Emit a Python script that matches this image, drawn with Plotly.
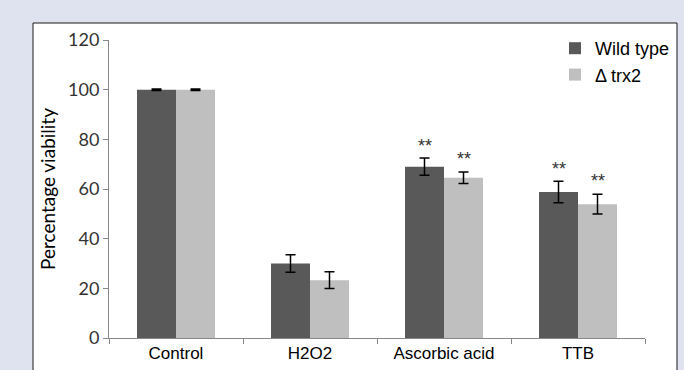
import plotly.graph_objects as go

categories = ["Control", "H2O2", "Ascorbic acid", "TTB"]
wild_type = [100, 30, 69, 58.8]
wild_err = [0.3, 3.5, 3.5, 4.3]
trx2 = [100, 23.3, 64.5, 53.9]
trx2_err = [0.3, 3.4, 2.3, 4.0]
sig_wild = ["", "", "**", "**"]
sig_trx2 = ["", "", "**", "**"]
y_ticks = [0, 20, 40, 60, 80, 100, 120]

fig = go.Figure()
fig.add_trace(go.Bar(
    x=categories, y=wild_type, name="Wild type",
    marker=dict(color="#595959", line=dict(width=0)),
    error_y=dict(type="data", array=wild_err, color="#000000", thickness=1.5, width=5),
))
fig.add_trace(go.Bar(
    x=categories, y=trx2, name="Δ trx2",
    marker=dict(color="#bfbfbf", line=dict(width=0)),
    error_y=dict(type="data", array=trx2_err, color="#000000", thickness=1.5, width=5),
))

for i, c in enumerate(categories):
    if sig_wild[i]:
        fig.add_annotation(x=c, y=wild_type[i] + wild_err[i], text=sig_wild[i],
                           xshift=-19.5, yshift=12, showarrow=False,
                           font=dict(family="Liberation Sans", size=18, color="#333333"))
    if sig_trx2[i]:
        fig.add_annotation(x=c, y=trx2[i] + trx2_err[i], text=sig_trx2[i],
                           xshift=19.5, yshift=13, showarrow=False,
                           font=dict(family="Liberation Sans", size=18, color="#333333"))

# white panel with black border
fig.add_shape(type="rect", xref="paper", yref="paper",
              x0=(33 - 109) / 536, x1=(677 - 109) / 536,
              y0=-0.2, y1=(338 - 23) / 298,
              fillcolor="white", line=dict(color="#1a1a1a", width=1), layer="below")

fig.update_layout(
    width=684, height=370,
    margin=dict(l=109, r=39, t=40, b=32, autoexpand=False),
    paper_bgcolor="#dfe3f0",
    plot_bgcolor="white",
    barmode="group", bargap=0.418, bargroupgap=0,
    showlegend=True,
    legend=dict(xref="container", yref="container",
                x=555 / 684, y=1 - 30 / 370, xanchor="left", yanchor="top",
                bgcolor="rgba(0,0,0,0)",
                font=dict(family="Liberation Sans", size=18, color="#000000"),
                itemwidth=30),
    font=dict(family="Liberation Sans", color="#000000"),
)
fig.update_xaxes(
    showline=True, linecolor="#888888", linewidth=1,
    ticks="outside", ticklen=5, tickcolor="#888888",
    tickson="boundaries",
    tickfont=dict(family="Liberation Sans", size=17, color="#000000"),
    showgrid=False, automargin=False,
)
fig.update_yaxes(
    range=[0, 120], tickvals=y_ticks,
    showline=True, linecolor="#888888", linewidth=1,
    ticks="outside", ticklen=5, tickcolor="#888888",
    tickfont=dict(family="Lato", size=18, color="#333333"),
    showgrid=False, zeroline=False, automargin=False,
    title=dict(text="Percentage viability", standoff=7,
               font=dict(family="Lato", size=19, color="#000000")),
)

fig.write_html("out.html", config={"displayModeBar": False},
               post_script="document.body.style.margin='0';")
